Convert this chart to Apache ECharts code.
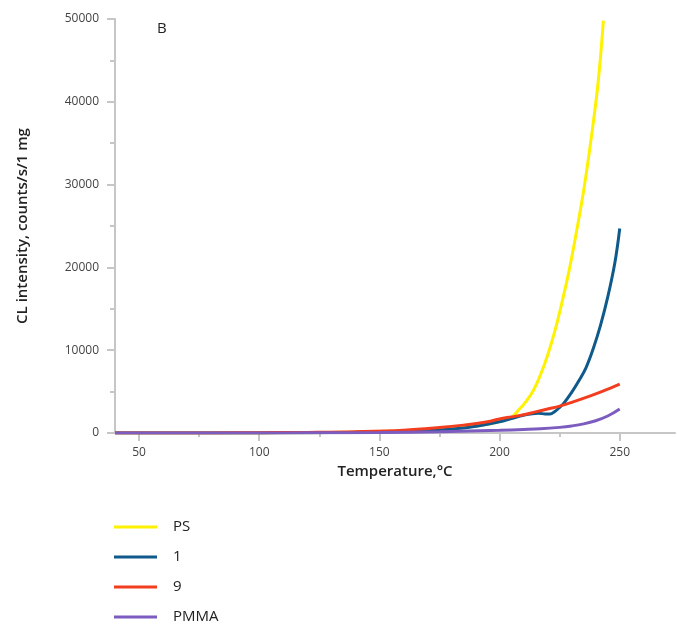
<!DOCTYPE html>
<html>
<head>
<meta charset="utf-8">
<script src="https://cdn.jsdelivr.net/npm/echarts@6/dist/echarts.min.js"></script>
<style>
  html, body { margin: 0; padding: 0; background: #fff; }
  #chart { width: 677px; height: 624px; }
</style>
</head>
<body>
<div id="chart"></div>
<script>
// Chemiluminescence intensity vs. temperature
const tempPS = [40, 60, 80, 100, 120, 140, 160, 175, 185, 195, 200, 205, 208, 211, 214, 217, 220, 223, 226, 229, 232, 235, 238, 241, 243.2];
const valPS  = [0, 0, 0, 10, 40, 110, 250, 420, 650, 1050, 1400, 1900, 2800, 3800, 5100, 7000, 9400, 12300, 15800, 19700, 24300, 29300, 35300, 42300, 49800];

const temp1 = [40, 60, 80, 100, 120, 140, 160, 175, 185, 195, 200, 205, 210, 213, 216, 219, 221, 223, 225, 227, 230, 233, 236, 239, 242, 245, 248, 250];
const val1  = [0, 0, 0, 10, 40, 100, 200, 360, 600, 1050, 1350, 1750, 2150, 2300, 2380, 2300, 2280, 2600, 3100, 3700, 4900, 6300, 7900, 10200, 13000, 16400, 20600, 24700];

const temp9 = [40, 60, 80, 100, 120, 140, 160, 175, 185, 195, 200, 205, 210, 215, 220, 225, 230, 237.5, 243, 250];
const val9  = [0, 0, 10, 30, 70, 150, 330, 650, 950, 1350, 1700, 1950, 2200, 2550, 2900, 3250, 3700, 4450, 5050, 5900];

const tempPMMA = [40, 60, 80, 100, 120, 150, 175, 200, 210, 217, 225, 230, 235, 240, 245, 250];
const valPMMA  = [0, 0, 0, 0, 20, 60, 150, 330, 420, 500, 680, 850, 1100, 1480, 2050, 2900];

const seriesNames = ['PS', '1', '9', 'PMMA'];
const xMajorTicks = [50, 100, 150, 200, 250];
const xMinorTicks = [75, 125, 175, 225];

const colors = ['#fff200', '#0f5a8b', '#f23d1e', '#7d5cbf'];
const FONT = '"Open Sans", "Noto Sans", sans-serif';
const axisGray = '#c6c6c6';

function pairs(xs, ys) { return xs.map((x, i) => [x, ys[i]]); }

const chart = echarts.init(document.getElementById('chart'), null, { renderer: 'canvas' });

const lineSeries = [
  [tempPS, valPS], [temp1, val1], [temp9, val9], [tempPMMA, valPMMA]
].map((d, i) => ({
  name: seriesNames[i],
  type: 'line',
  xAxisIndex: 0,
  yAxisIndex: 0,
  data: pairs(d[0], d[1]),
  smooth: 0.4,
  showSymbol: false,
  symbol: 'none',
  lineStyle: { width: 3, color: colors[i] },
  itemStyle: { color: colors[i] },
  z: 2 + i
}));

chart.setOption({
  animation: false,
  backgroundColor: '#fff',
  title: {
    text: 'B',
    left: 152,
    top: 16,
    textStyle: { fontFamily: FONT, fontSize: 15, fontWeight: 'normal', color: '#222' }
  },
  grid: { left: 115, right: 2, top: 19, bottom: 191, containLabel: false },
  legend: {
    orient: 'vertical',
    left: 114,
    top: 519,
    height: 130,
    padding: 0,
    itemGap: 14,
    itemWidth: 43,
    itemHeight: 3,
    icon: 'rect',
    data: seriesNames,
    textStyle: { fontFamily: FONT, fontSize: 15, color: '#222', padding: [0, 0, 0, 11], lineHeight: 16 }
  },
  xAxis: [{
    type: 'value',
    min: 40,
    max: 273,
    position: 'bottom',
    name: 'Temperature,°C',
    nameLocation: 'middle',
    nameGap: 27,
    nameTextStyle: { fontFamily: FONT, fontSize: 15, fontWeight: 600, color: '#222', verticalAlign: 'top' },
    axisLine: { show: true, lineStyle: { color: axisGray, width: 2 } },
    axisTick: { show: true, customValues: xMajorTicks, length: 8, lineStyle: { color: axisGray, width: 2 } },
    axisLabel: { customValues: xMajorTicks, margin: 14, fontFamily: FONT, fontSize: 12, color: '#444' },
    splitLine: { show: false }
  }, {
    type: 'value',
    min: 40,
    max: 273,
    position: 'bottom',
    axisLine: { show: false },
    axisTick: { show: true, customValues: xMinorTicks, length: 4, lineStyle: { color: axisGray, width: 2 } },
    axisLabel: { show: false },
    splitLine: { show: false }
  }],
  yAxis: {
    type: 'value',
    min: 0,
    max: 50000,
    interval: 10000,
    name: 'CL intensity, counts/s/1 mg',
    nameLocation: 'middle',
    nameGap: 85,
    nameRotate: 90,
    nameTextStyle: { fontFamily: FONT, fontSize: 15, fontWeight: 600, color: '#222' },
    axisLine: { show: true, lineStyle: { color: axisGray, width: 2 } },
    axisTick: { show: true, length: 8, lineStyle: { color: axisGray, width: 2 } },
    minorTick: { show: true, splitNumber: 2, length: 5, lineStyle: { color: axisGray, width: 2 } },
    axisLabel: { margin: 16, fontFamily: FONT, fontSize: 12, color: '#444', formatter: v => String(v) },
    splitLine: { show: false }
  },
  series: lineSeries
});
</script>
</body>
</html>
